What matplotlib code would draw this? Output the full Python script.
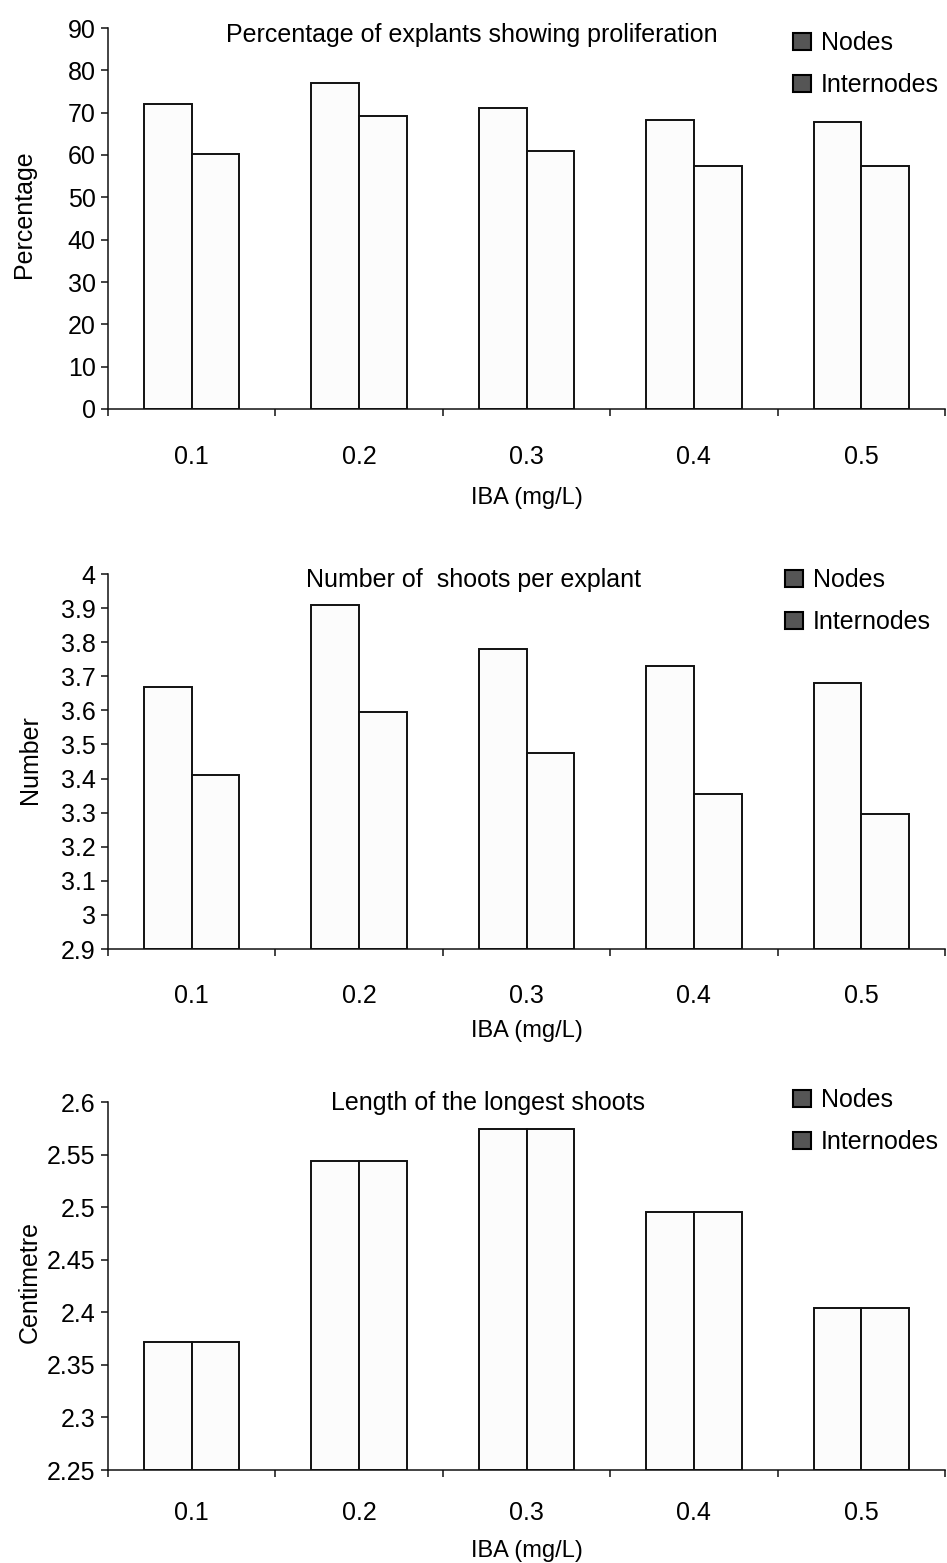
"""
Three grouped bar panels: IBA concentration vs proliferation, shoot number and shoot length.
"""
import matplotlib
matplotlib.use("Agg")
import matplotlib.pyplot as plt
from matplotlib.patches import Patch
import numpy as np

# data
iba_levels = ["0.1", "0.2", "0.3", "0.4", "0.5"]
series_names = ["Nodes", "Internodes"]

pct_nodes = [72.1, 77.0, 71.2, 68.2, 67.9]
pct_internodes = [60.3, 69.3, 61.0, 57.5, 57.4]
pct_ticks = [0, 10, 20, 30, 40, 50, 60, 70, 80, 90]
pct_ticklabels = ["0", "10", "20", "30", "40", "50", "60", "70", "80", "90"]

num_nodes = [3.67, 3.91, 3.78, 3.73, 3.68]
num_internodes = [3.41, 3.595, 3.475, 3.355, 3.295]
num_ticks = [2.9, 3.0, 3.1, 3.2, 3.3, 3.4, 3.5, 3.6, 3.7, 3.8, 3.9, 4.0]
num_ticklabels = ["2.9", "3", "3.1", "3.2", "3.3", "3.4", "3.5", "3.6",
                  "3.7", "3.8", "3.9", "4"]

len_nodes = [2.372, 2.544, 2.574, 2.495, 2.404]
len_internodes = [2.372, 2.544, 2.574, 2.495, 2.404]
len_ticks = [2.25, 2.3, 2.35, 2.4, 2.45, 2.5, 2.55, 2.6]
len_ticklabels = ["2.25", "2.3", "2.35", "2.4", "2.45", "2.5", "2.55", "2.6"]

plt.rcParams['font.family'] = ['Liberation Sans', 'DejaVu Sans']

W, H = 947, 1563
fig = plt.figure(figsize=(W / 100, H / 100), dpi=100)


def fx(px):
    return px / W


def fy(py):
    return 1 - py / H


def draw_panel(top, bottom, nodes, internodes, ticks, ticklabels,
               title, title_xy, ylabel, ylabel_xy, legend_xy, tick_pad,
               xlabel_pad):
    ax = fig.add_axes([fx(108), fy(bottom), fx(945) - fx(108),
                       fy(top) - fy(bottom)])
    x = np.arange(len(iba_levels))
    bw = 0.285
    ymin = ticks[0]
    ax.bar(x - bw / 2, np.array(nodes) - ymin, bw, bottom=ymin,
           facecolor='#fcfcfc', edgecolor='#111111', linewidth=1.4)
    ax.bar(x + bw / 2, np.array(internodes) - ymin, bw, bottom=ymin,
           facecolor='#fcfcfc', edgecolor='#111111', linewidth=1.4)
    ax.set_xlim(-0.5, len(iba_levels) - 0.5)
    ax.set_ylim(ticks[0], ticks[-1])

    for s in ['top', 'right']:
        ax.spines[s].set_visible(False)
    for s in ['left', 'bottom']:
        ax.spines[s].set_linewidth(1.1)
        ax.spines[s].set_color('#111111')

    ax.set_yticks(ticks)
    ax.set_yticklabels(ticklabels, fontsize=18)
    ax.tick_params(axis='y', length=5, width=1.1, pad=4, color='#111111')

    # ticks at group boundaries, labels at group centres
    ax.set_xticks(np.arange(-0.5, len(iba_levels)))
    ax.set_xticklabels([])
    ax.set_xticks(x, minor=True)
    ax.set_xticklabels(iba_levels, minor=True, fontsize=18)
    ax.tick_params(axis='x', which='major', length=5, width=1.1,
                   color='#111111')
    ax.tick_params(axis='x', which='minor', length=0, pad=tick_pad)
    ax.set_xlabel('IBA (mg/L)', fontsize=17, labelpad=xlabel_pad)

    fig.text(fx(title_xy[0]), fy(title_xy[1]), title, fontsize=18,
             ha='center', va='baseline')
    fig.text(fx(ylabel_xy[0]), fy(ylabel_xy[1]), ylabel, fontsize=18,
             rotation=90, ha='center', va='center')

    handles = [Patch(facecolor='#555555', edgecolor='black', linewidth=1.5,
                     label=n) for n in series_names]
    ax.legend(handles=handles, loc='upper left',
              bbox_to_anchor=(fx(legend_xy[0]), fy(legend_xy[1])),
              bbox_transform=fig.transFigure, frameon=False,
              borderaxespad=0, borderpad=0, handlelength=0.7,
              handleheight=0.7, handletextpad=0.4, labelspacing=0.72,
              fontsize=18)
    return ax


draw_panel(28, 409, pct_nodes, pct_internodes, pct_ticks, pct_ticklabels,
           'Percentage of explants showing proliferation', (472, 42),
           'Percentage', (24, 214), (793, 31), 26, 13)
draw_panel(574, 949, num_nodes, num_internodes, num_ticks, num_ticklabels,
           'Number of  shoots per explant', (474, 587),
           'Number', (30, 760), (785, 568), 25, 9)
draw_panel(1102, 1470, len_nodes, len_internodes, len_ticks, len_ticklabels,
           'Length of the longest shoots', (488, 1110),
           'Centimetre', (30, 1282), (793, 1088), 22, 11)

fig.savefig('out.png', dpi=100)
